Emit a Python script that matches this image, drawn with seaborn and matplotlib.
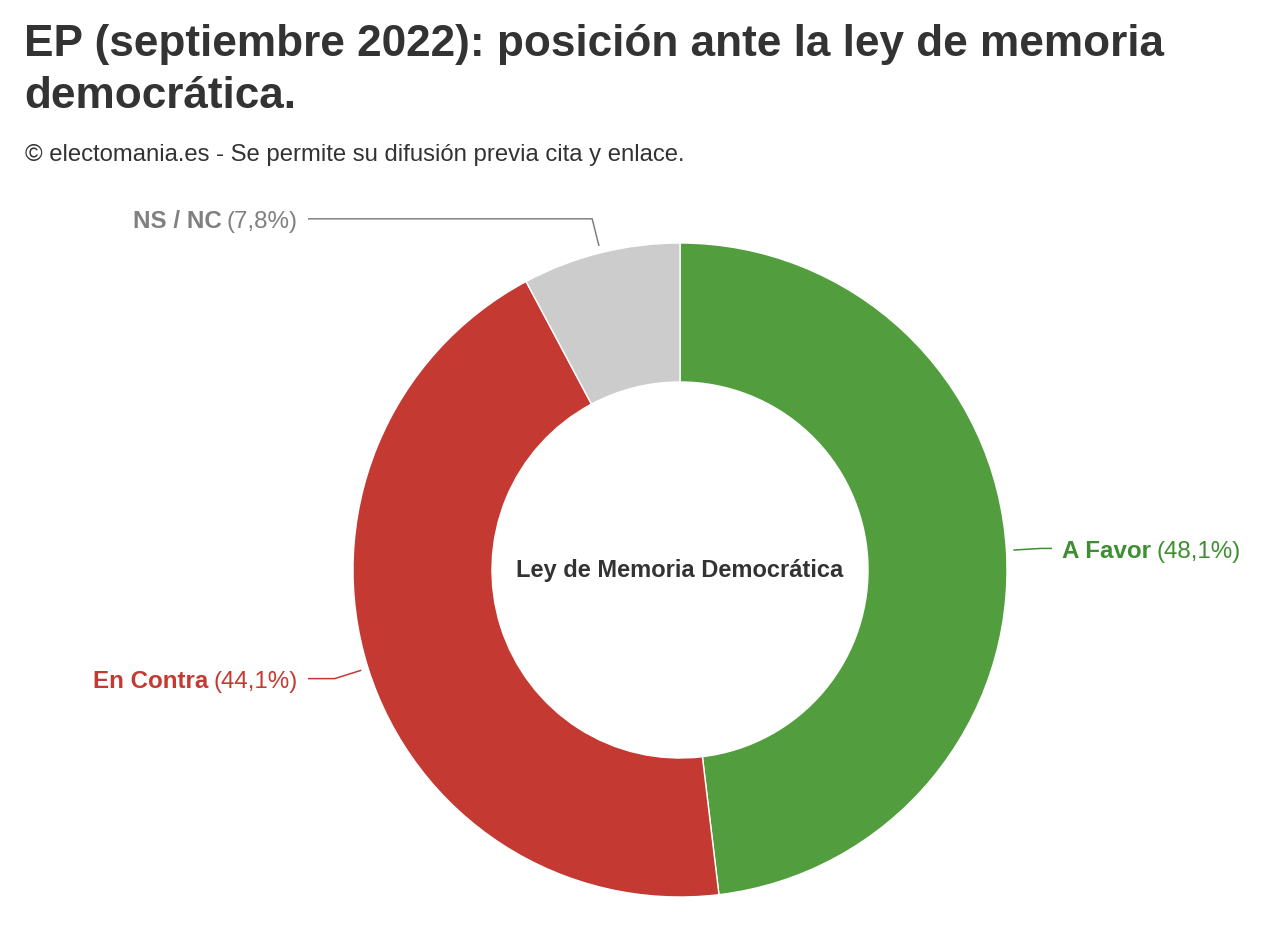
import numpy as np
import matplotlib
matplotlib.use("Agg")
import matplotlib.pyplot as plt
import seaborn as sns

# Data
labels = ['A Favor', 'En Contra', 'NS / NC']
values = [48.1, 44.1, 7.8]
slice_colors = ['#529e3e', '#c43a33', '#cccccc']
text_colors = ['#3f8f32', '#c43a33', '#808080']

title = 'EP (septiembre 2022): posición ante la ley de memoria\ndemocrática.'
subtitle = '© electomania.es - Se permite su difusión previa cita y enlace.'
center_label = 'Ley de Memoria Democrática'

sns.set_theme(style="white")
plt.rcParams['font.family'] = ['Liberation Sans', 'DejaVu Sans']

W, H = 1280, 940
fig = plt.figure(figsize=(W / 100, H / 100), dpi=100)
ax = fig.add_axes([0, 0, 1, 1])
ax.set_xlim(0, W)
ax.set_ylim(0, H)
ax.set_aspect('equal')
ax.axis('off')

cx, cy, r = 680, H - 570, 327
wedges, _ = ax.pie(values, colors=slice_colors, startangle=90, counterclock=False,
                   radius=r, center=(cx, cy),
                   wedgeprops=dict(width=r * 0.425, edgecolor='white', linewidth=1))
ax.set_xlim(0, W)
ax.set_ylim(0, H)

ax.text(cx, cy, center_label, ha='center', va='center', fontsize=17,
        fontweight='bold', color='#333333')

# labels with leader lines
fs = 17.4
for w, lab, val, tc in zip(wedges, labels, values, text_colors):
    ang = np.deg2rad((w.theta1 + w.theta2) / 2)
    ca, sa = np.cos(ang), np.sin(ang)
    p0 = (cx + (r + 7) * ca, cy + (r + 7) * sa)
    p1 = (cx + (r + 35) * ca, cy + (r + 35) * sa)
    side = 1 if ca >= 0 else -1
    xend = cx + side * (r + 45)
    ax.plot([p0[0], p1[0], xend], [p0[1], p1[1], p1[1]], color=tc, lw=1.1,
            solid_capstyle='butt')
    pct = f'({val:.1f}%)'.replace('.', ',')
    ty = p1[1] - 3
    if side > 0:
        t1 = ax.text(xend + 10, ty, lab, ha='left', va='center', fontsize=fs,
                     fontweight='bold', color=tc)
        ax.annotate(pct, xy=(1, 0), xycoords=t1, xytext=(4, 0), textcoords='offset points',
                    ha='left', va='bottom', fontsize=fs, color=tc)
    else:
        t2 = ax.text(xend - 10, ty, pct, ha='right', va='center', fontsize=fs,
                     color=tc)
        ax.annotate(lab, xy=(0, 0), xycoords=t2, xytext=(-4, 0), textcoords='offset points',
                    ha='right', va='bottom', fontsize=fs, fontweight='bold', color=tc)

fig.text(24 / W, 1 - 24 / H, title, ha='left', va='top', fontsize=31.8,
         fontweight='bold', color='#333333', linespacing=1.33)
fig.text(25 / W, 1 - 155 / H, subtitle, ha='left', va='center', fontsize=17.2,
         color='#333333')

fig.savefig('out.png', dpi=100, facecolor='white')
